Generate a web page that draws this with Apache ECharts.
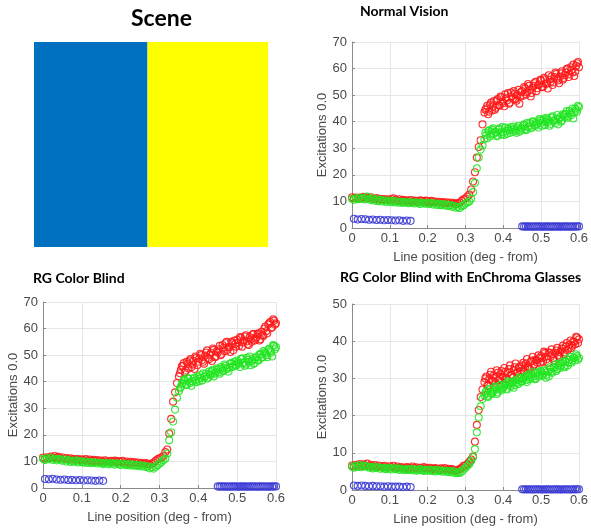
<!DOCTYPE html>
<html>
<head>
<meta charset="utf-8">
<script src="https://cdn.jsdelivr.net/npm/echarts@6/dist/echarts.min.js"></script>
<style>
html,body{margin:0;padding:0;background:#fff;}
#chart{width:591px;height:529px;}
</style>
</head>
<body>
<div id="chart"></div>
<script>
// ---- Data ----
const sceneCategories = ['Scene'];
const sceneBlue = [0.485];
const sceneYellow = [0.515];

const xTicks = [0, 0.1, 0.2, 0.3, 0.4, 0.5, 0.6];

const xPos = [0,0.005,0.01,0.015,0.02,0.025,0.03,0.035,0.04,0.045,0.05,0.055,0.06,0.065,0.07,0.075,0.08,0.085,0.09,0.095,0.1,0.105,0.11,0.115,0.12,0.125,0.13,0.135,0.14,0.145,0.15,0.155,0.16,0.165,0.17,0.175,0.18,0.185,0.19,0.195,0.2,0.205,0.21,0.215,0.22,0.225,0.23,0.235,0.24,0.245,0.25,0.255,0.26,0.265,0.27,0.275,0.28,0.285,0.29,0.295,0.3,0.305,0.31,0.315,0.32,0.325,0.33,0.335,0.34,0.345,0.35,0.355,0.36,0.365,0.37,0.375,0.38,0.385,0.39,0.395,0.4,0.405,0.41,0.415,0.42,0.425,0.43,0.435,0.44,0.445,0.45,0.455,0.46,0.465,0.47,0.475,0.48,0.485,0.49,0.495,0.5,0.505,0.51,0.515,0.52,0.525,0.53,0.535,0.54,0.545,0.55,0.555,0.56,0.565,0.57,0.575,0.58,0.585,0.59,0.595,0.6];

// extra samples in the upper (yellow-region) part
const xPos2 = [0.3525,0.3575,0.3625,0.3675,0.3725,0.3775,0.3825,0.3875,0.3925,0.3975,0.4025,0.4075,0.4125,0.4175,0.4225,0.4275,0.4325,0.4375,0.4425,0.4475,0.4525,0.4575,0.4625,0.4675,0.4725,0.4775,0.4825,0.4875,0.4925,0.4975,0.5025,0.5075,0.5125,0.5175,0.5225,0.5275,0.5325,0.5375,0.5425,0.5475,0.5525,0.5575,0.5625,0.5675,0.5725,0.5775,0.5825,0.5875,0.5925,0.5975];

const blueX = [0.005,0.015,0.025,0.035,0.045,0.055,0.065,0.075,0.085,0.095,0.105,0.115,0.125,0.135,0.145,0.155,0.45,0.455,0.46,0.465,0.47,0.475,0.48,0.485,0.49,0.495,0.5,0.505,0.51,0.515,0.52,0.525,0.53,0.535,0.54,0.545,0.55,0.555,0.56,0.565,0.57,0.575,0.58,0.585,0.59,0.595,0.6];

// Normal Vision
const nvL = [11.6,11.2,11.5,11.0,11.4,11.3,11.7,11.1,11.5,11.2,
  11.6,11.0,10.8,11.3,10.7,11.0,10.6,10.9,10.5,10.8,
  10.4,10.9,11.2,10.5,10.3,10.8,10.2,10.6,10.1,10.4,
  10.0,10.5,9.9,10.3,10.1,9.8,10.4,10.2,9.9,10.3,
  10.1,9.7,10.2,9.8,10.0,9.6,9.9,9.5,9.8,9.4,
  9.7,9.3,9.6,9.2,9.5,9.0,9.3,9.6,10.2,10.8,
  11.2,11.8,12.6,14.5,17.5,21.0,26.5,30.5,33.0,39.0,
  43.5,45.0,42.8,46.5,44.2,47.8,45.3,48.5,46.0,49.2,
  47.0,50.3,48.0,46.8,51.0,48.7,50.5,47.9,52.0,49.5,
  51.5,53.0,50.2,54.2,52.0,50.8,53.5,55.0,52.6,54.0,
  55.5,53.2,56.0,54.5,57.5,55.0,53.8,56.8,58.0,55.5,
  57.0,59.0,56.5,58.5,60.0,57.8,59.5,61.5,58.8,62.0,
  60.5];
const nvL2 = [44.5,46.0,43.8,47.2,45.8,44.5,48.0,46.2,49.5,47.5,
  45.8,48.8,50.8,47.2,49.5,51.5,48.5,50.0,46.8,51.2,
  49.8,52.5,51.0,53.5,49.5,52.8,54.5,51.5,53.8,55.8,
  53.0,56.5,54.2,52.5,55.8,57.0,54.8,58.5,56.2,54.5,
  58.2,55.8,57.5,59.8,56.8,60.5,58.5,57.2,61.0,62.5];
const nvM = [11.0,10.6,11.2,10.8,11.5,10.9,11.3,10.7,11.8,11.0,
  10.5,11.1,10.3,10.8,10.1,10.6,10.0,10.4,9.8,10.3,
  10.0,9.7,10.2,9.6,10.0,9.5,9.9,9.4,9.8,9.6,
  9.3,9.8,9.5,9.2,9.7,9.4,9.0,9.6,9.3,9.1,
  9.5,9.0,9.4,8.8,9.2,8.7,9.1,8.6,9.0,8.5,
  8.8,8.2,8.6,8.0,8.4,7.6,7.9,7.5,8.2,8.6,
  9.2,9.6,10.0,11.0,13.5,17.0,22.5,26.5,29.5,31.0,
  33.5,35.0,36.5,34.5,37.0,35.5,36.0,34.8,37.5,35.2,
  36.0,37.8,35.5,36.8,38.0,36.2,37.2,35.8,38.5,36.7,
  37.5,39.0,36.8,38.2,39.5,37.8,40.0,38.5,39.2,41.0,
  39.5,40.5,38.8,41.5,40.0,39.2,42.0,40.5,41.0,39.0,
  41.8,40.5,42.5,43.0,41.5,44.0,42.5,41.2,45.0,43.8,
  45.5];
const nvM2 = [35.8,33.8,36.8,35.2,37.5,36.2,34.5,37.0,36.0,38.0,
  35.0,36.5,37.5,35.8,37.0,38.2,36.5,37.8,36.2,37.5,
  38.5,37.2,39.5,38.0,37.5,40.2,38.8,39.8,37.8,40.5,
  38.5,41.2,39.8,40.8,38.5,41.5,40.2,39.5,42.5,41.0,
  40.0,42.8,41.8,44.0,42.0,43.2,45.0,43.5,44.5,46.0];
const nvS = [3.5,3.2,3.4,3.3,3.1,3.2,3.0,3.1,2.9,3.0,2.9,2.8,2.9,2.7,2.8,2.7,
  0.6,0.5,0.6,0.5,0.6,0.5,0.5,0.6,0.5,0.6,0.5,0.5,0.6,0.5,0.6,0.5,0.5,0.6,0.5,0.6,0.5,0.5,0.6,0.5,0.6,0.5,0.5,0.6,0.5,0.6,0.6];

// RG Color Blind
const cbL = [11.5,11.0,11.6,11.2,11.8,11.3,12.0,11.4,11.7,11.1,
  11.5,11.0,11.3,10.8,11.2,10.7,11.0,10.6,10.9,10.5,
  10.8,10.4,10.9,10.3,10.7,10.2,10.6,10.1,10.5,10.0,
  10.3,9.9,10.4,10.0,9.8,10.2,9.9,10.3,9.7,10.1,
  9.8,10.2,9.6,10.0,9.5,9.9,9.4,9.8,9.3,9.6,
  9.2,9.5,9.1,9.4,9.0,8.8,9.2,9.6,10.2,10.8,
  11.2,11.5,12.0,13.5,14.5,20.5,26.0,32.5,36.0,39.5,
  42.0,44.5,46.0,43.5,47.5,45.0,48.5,46.5,44.8,49.0,
  47.5,50.5,48.2,46.8,51.0,49.0,50.2,47.8,52.0,49.5,
  51.0,53.5,50.5,52.8,54.5,52.0,53.0,55.0,51.8,54.2,
  55.8,53.5,56.5,54.8,57.0,55.2,53.8,56.0,57.8,55.5,
  56.8,58.2,56.0,57.5,60.0,59.0,61.5,62.5,60.5,63.0,
  62.0];
const cbL2 = [43.2,45.8,47.0,44.2,46.8,48.0,45.5,47.8,49.5,46.2,
  48.8,50.0,47.5,49.8,51.8,48.5,50.8,52.5,49.2,51.5,
  52.2,50.0,53.8,51.5,55.0,53.0,51.2,54.5,55.5,53.2,
  54.8,56.8,53.2,55.5,57.5,54.2,56.8,55.0,58.0,56.2,
  57.8,55.5,58.8,57.2,60.8,58.2,62.0,60.2,63.5,61.5];
const cbM = [11.0,10.5,11.2,10.8,11.4,10.6,11.0,10.4,10.9,10.7,
  10.3,10.8,10.0,10.5,9.8,10.2,9.9,10.4,9.6,10.1,
  9.8,9.5,10.0,9.4,9.8,9.3,9.7,9.5,9.2,9.6,
  9.3,9.0,9.5,9.2,8.9,9.4,9.1,8.8,9.3,9.0,
  8.7,9.2,8.9,8.6,9.0,8.5,8.8,8.4,8.7,8.3,
  8.6,8.1,8.4,7.9,8.2,7.4,7.8,7.3,8.0,8.6,
  9.2,9.8,10.5,11.0,13.0,18.0,21.0,25.0,29.5,34.0,
  36.5,38.0,39.5,40.5,38.8,41.0,39.5,40.2,41.5,39.8,
  41.0,42.5,40.5,41.8,43.0,41.5,42.8,44.0,42.0,43.5,
  44.5,43.0,45.0,44.0,46.0,44.8,45.5,47.0,45.8,46.5,
  48.0,46.8,48.5,47.2,46.0,49.0,47.5,46.2,48.5,47.0,
  49.5,48.0,50.5,49.2,51.0,50.0,52.0,51.5,49.5,53.5,
  53.0];
const cbM2 = [37.5,39.2,40.8,39.0,41.5,40.0,38.5,41.2,40.5,42.0,
  40.2,41.5,43.2,42.0,41.2,43.8,42.5,44.5,43.0,45.0,
  43.5,45.5,44.2,46.5,45.2,43.8,46.8,45.5,47.5,46.0,
  47.2,45.5,48.8,47.0,46.5,48.2,49.5,47.8,46.8,49.0,
  48.2,50.2,49.0,51.5,50.5,49.2,52.5,51.0,53.8,52.2];
const cbS = [3.4,3.3,3.5,3.2,3.1,3.2,3.0,3.0,2.9,3.0,2.8,2.9,2.8,2.7,2.8,2.7,
  0.6,0.5,0.6,0.5,0.6,0.5,0.5,0.6,0.5,0.6,0.5,0.5,0.6,0.5,0.6,0.5,0.5,0.6,0.5,0.6,0.5,0.5,0.6,0.5,0.6,0.5,0.5,0.6,0.5,0.6,0.6];

// RG Color Blind with EnChroma Glasses
const ecL = [6.6,6.3,6.8,6.5,7.0,6.4,6.9,6.6,7.1,6.5,
  6.8,6.3,6.7,6.2,6.6,6.4,6.1,6.5,6.3,6.0,
  6.4,6.1,6.5,6.0,6.3,5.9,6.2,6.0,5.8,6.2,
  6.0,5.8,6.3,5.9,6.1,5.7,6.0,5.8,6.2,5.9,
  5.7,6.0,5.8,5.6,5.9,5.7,5.5,5.8,5.6,5.9,
  5.5,5.7,5.4,5.6,5.3,5.1,5.4,5.6,6.0,6.5,
  6.6,7.0,7.6,8.2,9.0,13.0,17.5,21.5,25.0,27.0,
  29.0,30.5,28.2,31.0,29.5,30.8,28.8,31.5,30.0,32.0,
  30.5,31.8,29.8,32.5,31.0,30.2,33.0,31.5,32.8,31.2,
  33.5,32.0,34.0,33.2,32.5,34.8,33.5,35.0,34.2,35.5,
  36.0,34.5,36.8,35.2,37.0,35.8,36.5,34.8,37.5,36.2,
  37.0,38.0,36.5,38.5,37.5,39.0,38.2,40.0,39.2,41.0,
  40.5];
const ecL2 = [30.0,28.0,29.8,31.8,29.2,30.2,32.2,29.5,31.2,30.5,
  32.8,30.0,31.5,33.5,30.8,32.2,34.0,31.8,33.2,32.0,
  34.2,33.0,35.2,32.8,34.5,35.8,33.8,34.8,36.2,34.2,
  35.5,37.2,35.8,34.2,36.8,37.8,35.5,36.8,38.2,35.8,
  37.5,38.8,37.0,39.5,38.0,40.2,38.8,39.8,41.2,39.5];
const ecM = [6.3,6.0,6.5,6.2,6.7,6.1,6.6,6.3,6.4,6.0,
  6.2,5.8,6.3,5.9,6.1,5.7,6.0,5.8,5.6,6.0,
  5.7,5.5,5.9,5.6,5.8,5.4,5.7,5.5,5.3,5.6,
  5.4,5.6,5.3,5.5,5.2,5.4,5.6,5.3,5.1,5.4,
  5.2,5.5,5.1,5.3,5.0,5.4,5.1,5.2,4.9,5.2,
  5.0,4.8,5.1,4.7,5.0,4.5,4.7,4.6,5.0,5.5,
  6.0,6.5,7.0,7.8,8.8,11.0,15.5,19.5,22.5,24.5,
  25.5,26.5,25.0,27.0,25.8,26.8,27.5,26.2,28.0,26.8,
  27.5,28.5,27.0,28.8,27.8,29.0,28.2,29.5,28.5,30.0,
  29.2,30.2,29.5,30.8,29.8,31.0,30.5,29.8,31.5,30.5,
  31.8,30.8,32.0,31.0,30.5,32.5,31.5,33.0,32.0,33.5,
  32.8,34.0,33.2,34.5,33.5,35.0,34.2,35.5,34.8,36.0,
  35.5];
const ecM2 = [26.0,25.2,27.2,26.0,26.5,27.8,25.8,27.0,28.2,27.2,
  28.0,27.2,29.2,28.2,28.8,27.5,29.5,28.8,30.2,29.2,
  29.8,30.5,29.0,31.2,30.2,31.8,30.0,31.5,30.8,32.0,
  31.2,32.2,30.2,31.8,33.0,31.8,32.8,33.8,32.5,34.0,
  33.5,34.5,33.0,35.2,34.2,35.8,34.8,35.5,36.5,35.0];
const ecS = [1.2,1.1,1.2,1.1,1.0,1.1,1.0,1.0,0.9,1.0,0.9,0.9,0.9,0.8,0.9,0.8,
  0.2,0.15,0.2,0.15,0.2,0.15,0.15,0.2,0.15,0.2,0.15,0.15,0.2,0.15,0.2,0.15,0.15,0.2,0.15,0.2,0.15,0.15,0.2,0.15,0.2,0.15,0.15,0.2,0.15,0.2,0.2];

const panelTitles = ['Normal Vision', 'RG Color Blind', 'RG Color Blind with EnChroma Glasses'];
const yMaxes = [70, 70, 50];
const yLabel = 'Excitations 0.0';
const xLabel = 'Line position (deg - from)';

// ---- Chart ----
const chart = echarts.init(document.getElementById('chart'), null, {renderer: 'canvas'});

const grids = [
  {left: 34, top: 42, width: 234, height: 205},   // scene
  {left: 352, top: 42, width: 231, height: 186},  // normal
  {left: 43, top: 302, width: 233, height: 186},  // RG
  {left: 352, top: 304, width: 231, height: 186}  // EnChroma
];

const axisGrey = '#8a8a8a';
const labelColor = '#4a4a4a';
const fontFam = '"Liberation Sans", Arial, sans-serif';

const xAxes = [{
  gridIndex: 0, type: 'value', min: 0, max: 1, show: false
}];
const yAxes = [{
  gridIndex: 0, type: 'category', data: sceneCategories, show: false
}];
for (let p = 0; p < 3; p++) {
  xAxes.push({
    gridIndex: p + 1, type: 'value', min: xTicks[0], max: xTicks[xTicks.length - 1], interval: 0.1,
    name: xLabel, nameLocation: 'middle', nameGap: 23,
    nameTextStyle: {color: labelColor, fontSize: 13, fontFamily: fontFam},
    axisLine: {show: true, lineStyle: {color: axisGrey, width: 1}},
    axisTick: {show: true, inside: true, length: 3, lineStyle: {color: axisGrey}},
    axisLabel: {color: labelColor, fontSize: 13, fontFamily: fontFam, margin: 4},
    splitLine: {show: true, lineStyle: {color: '#e6e6e6', width: 1}}
  });
  yAxes.push({
    gridIndex: p + 1, type: 'value', min: 0, max: yMaxes[p], interval: 10,
    name: yLabel, nameLocation: 'middle', nameGap: 16,
    nameTextStyle: {color: labelColor, fontSize: 13, fontFamily: fontFam},
    axisLine: {show: true, lineStyle: {color: axisGrey, width: 1}},
    axisTick: {show: true, inside: true, length: 3, lineStyle: {color: axisGrey}},
    axisLabel: {color: labelColor, fontSize: 13, fontFamily: fontFam, margin: 5},
    splitLine: {show: true, lineStyle: {color: '#e6e6e6', width: 1}}
  });
}

function pairs(xs, ys) { return xs.map((x, i) => [x, ys[i]]); }

const panelData = [
  [nvL, nvL2, nvM, nvM2, nvS],
  [cbL, cbL2, cbM, cbM2, cbS],
  [ecL, ecL2, ecM, ecM2, ecS]
];
const circleColors = ['#ff1a1a', '#22e622', '#3a3ad6'];

const series = [
  {type: 'bar', xAxisIndex: 0, yAxisIndex: 0, stack: 'scene', data: sceneBlue, barWidth: '100%',
   itemStyle: {color: '#0070C0'}, silent: true, animation: false},
  {type: 'bar', xAxisIndex: 0, yAxisIndex: 0, stack: 'scene', data: sceneYellow, barWidth: '100%',
   itemStyle: {color: '#FFFF00'}, silent: true, animation: false}
];
for (let p = 0; p < 3; p++) {
  const [L, L2, M, M2, S] = panelData[p];
  const sets = [
    pairs(xPos, L).concat(pairs(xPos2, L2)),
    pairs(xPos, M).concat(pairs(xPos2, M2)),
    pairs(blueX, S)
  ];
  for (let k = 0; k < 3; k++) {
    series.push({
      type: 'scatter', xAxisIndex: p + 1, yAxisIndex: p + 1,
      data: sets[k], symbol: 'circle', symbolSize: 7,
      itemStyle: {color: 'rgba(0,0,0,0)', borderColor: circleColors[k], borderWidth: 1.1, opacity: 0.9},
      animation: false, silent: true
    });
  }
}

const titleStyle = {fontFamily: 'Lato, "Open Sans", sans-serif', fontWeight: 'bold', color: '#000', fontSize: 14};
const option = {
  backgroundColor: '#fff',
  animation: false,
  title: [
    {text: 'Scene', left: 126, top: 2, textStyle: Object.assign({}, titleStyle, {fontSize: 23})},
    {text: panelTitles[0], left: 355, top: -1, textStyle: titleStyle},
    {text: panelTitles[1], left: 28, top: 266, textStyle: titleStyle},
    {text: panelTitles[2], left: 335, top: 265, textStyle: titleStyle}
  ],
  grid: grids,
  xAxis: xAxes,
  yAxis: yAxes,
  series: series
};
chart.setOption(option);
</script>
</body>
</html>
